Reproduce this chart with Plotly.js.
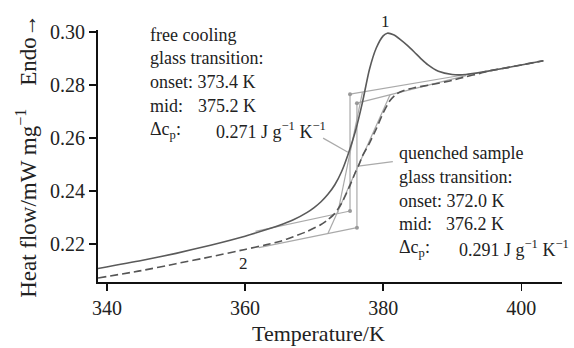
<!DOCTYPE html>
<html>
<head>
<meta charset="utf-8">
<script src="https://cdn.plot.ly/plotly-3.0.1.min.js"></script>
<style>html,body{margin:0;padding:0;background:#fff;}</style>
</head>
<body>
<div id="chart" style="width:574px;height:348px;"></div>
<script>
// ---- Data ----
// Curve 1: free cooling (solid)
const tempFree = [338.7, 345, 350, 355, 360, 363, 365, 367, 369, 370, 371, 372, 373, 374, 375, 376, 377, 378, 379, 380, 380.6, 381.5, 382.5, 383.5, 384.5, 385.5, 386.5, 388, 390, 392, 395, 398, 400, 403.2];
const hfFree   = [0.2108, 0.2138, 0.2165, 0.2196, 0.2230, 0.2254, 0.2271, 0.2292, 0.2320, 0.2338, 0.2360, 0.2388, 0.2424, 0.2475, 0.2545, 0.2628, 0.2735, 0.2858, 0.2940, 0.2986, 0.2996, 0.2990, 0.2972, 0.2950, 0.2925, 0.2899, 0.2876, 0.2852, 0.2840, 0.2840, 0.2852, 0.2866, 0.2876, 0.2892];
// Curve 2: quenched sample (dashed)
const tempQuench = [338.7, 345, 350, 355, 360, 363, 365, 367, 369, 371, 372, 373, 374, 375, 376, 376.5, 377, 378, 379, 380, 381, 382, 383, 384.5, 387, 390, 392, 394, 395, 398, 400, 403.2];
const hfQuench   = [0.2072, 0.2100, 0.2126, 0.2152, 0.2180, 0.2197, 0.2210, 0.2228, 0.2248, 0.2274, 0.2292, 0.2316, 0.2355, 0.2410, 0.2472, 0.2500, 0.2533, 0.2580, 0.2635, 0.2695, 0.2742, 0.2768, 0.2780, 0.2790, 0.2802, 0.2818, 0.2832, 0.2844, 0.2852, 0.2866, 0.2876, 0.2892];

// Evaluation construction lines, free cooling
const freeLowerT = [361.5, 375.2], freeLowerHF = [0.2248, 0.2325];
const freeUpperT = [375.2, 392.0], freeUpperHF = [0.2766, 0.2840];
const freeStepT  = [375.2, 375.2], freeStepHF  = [0.2325, 0.2766];
const freeTanT   = [373.4, 377.0], freeTanHF   = [0.2315, 0.2774];
const freeLeadT  = [371.3, 374.9], freeLeadHF  = [0.2600, 0.2547];
// Evaluation construction lines, quenched sample
const quenchLowerT = [362.0, 376.2], quenchLowerHF = [0.2187, 0.2262];
const quenchUpperT = [376.2, 392.0], quenchUpperHF = [0.2732, 0.2836];
const quenchStepT  = [376.2, 376.2], quenchStepHF  = [0.2262, 0.2732];
const quenchTanT   = [372.0, 381.0], quenchTanHF   = [0.2240, 0.2764];
const quenchLeadT  = [381.4, 376.4], quenchLeadHF  = [0.2511, 0.2494];

const xTicks = [340, 360, 380, 400];
const yTicks = [0.22, 0.24, 0.26, 0.28, 0.30];
const xTitle = "Temperature/K";
const yTitle = "Heat flow/mW mg<sup>−1</sup>";
const yTitleEnd = "Endo→";

const freeText = ["free cooling", "glass transition:", "onset: 373.4 K", "mid:", "375.2 K", "Δc<sub>p</sub>:", "0.271 J g<sup>−1</sup> K<sup>−1</sup>"];
const quenchText = ["quenched sample", "glass transition:", "onset: 372.0 K", "mid:", "376.2 K", "Δc<sub>p</sub>:", "0.291 J g<sup>−1</sup> K<sup>−1</sup>"];
const curveLabels = ["1", "2"];
const curveLabelT = [380.3, 359.7];

// ---- Styles ----
const FONT = "Liberation Serif";
const GRAY = "#aaaaaa";
function guide(x, y, markers) {
  return {x: x, y: y, type: "scatter", mode: markers ? "lines+markers" : "lines",
    line: {color: GRAY, width: 1.2}, marker: {color: "#999", size: 4}, hoverinfo: "skip"};
}

const traces = [
  guide(freeLowerT, freeLowerHF), guide(freeUpperT, freeUpperHF), guide(freeStepT, freeStepHF, true),
  guide(freeTanT, freeTanHF), guide(freeLeadT, freeLeadHF),
  guide(quenchLowerT, quenchLowerHF), guide(quenchUpperT, quenchUpperHF), guide(quenchStepT, quenchStepHF, true),
  guide(quenchTanT, quenchTanHF), guide(quenchLeadT, quenchLeadHF),
  {x: tempQuench, y: hfQuench, type: "scatter", mode: "lines", name: "2",
   line: {color: "#555555", width: 1.6, dash: "8px,4px", shape: "spline", smoothing: 0.6}},
  {x: tempFree, y: hfFree, type: "scatter", mode: "lines", name: "1",
   line: {color: "#5a5a5a", width: 1.6, shape: "spline", smoothing: 0.6}}
];

// pixel helpers for text placement (plot area: x 98..562, y 30..282)
function px(x) { return (x - 98) / 464; }
function py(y) { return (282 - y) / 252; }
function txt(t, x, y) {
  return {text: t, xref: "paper", yref: "paper", x: px(x), y: py(y), xanchor: "left", yanchor: "middle",
    showarrow: false, font: {family: FONT, size: 18, color: "#222"}};
}
const ann = [
  txt(freeText[0], 148, 35), txt(freeText[1], 148, 58), txt(freeText[2], 148, 82),
  txt(freeText[3], 148, 106), txt(freeText[4], 196, 106), txt(freeText[5], 148, 130), txt(freeText[6], 214, 130),
  txt(quenchText[0], 397, 153), txt(quenchText[1], 397, 177), txt(quenchText[2], 397, 201),
  txt(quenchText[3], 397, 224), txt(quenchText[4], 444, 224), txt(quenchText[5], 397, 248), txt(quenchText[6], 457, 248)
];
const labelPy = [22, 263];
for (let i = 0; i < curveLabels.length; i++) {
  ann.push({text: curveLabels[i], x: curveLabelT[i], y: py(labelPy[i]), xref: "x", yref: "paper",
    yanchor: "middle", showarrow: false, font: {family: FONT, size: 17, color: "#222"}});
}
// x-axis title, placed as in the reference (slightly left of centre)
ann.push({text: xTitle, xref: "paper", yref: "paper", x: px(318), y: py(333), xanchor: "center", yanchor: "middle",
  showarrow: false, borderpad: 0, font: {family: FONT, size: 22, color: "#222"}});

const NB = "\u00A0";
const layout = {
  width: 574, height: 348,
  margin: {l: 98, r: 12, t: 30, b: 66},
  paper_bgcolor: "#fff", plot_bgcolor: "#fff",
  showlegend: false,
  font: {family: FONT, color: "#222"},
  xaxis: {
    range: [338.7, 405.9], tickvals: xTicks, ticktext: xTicks.map(String),
    ticks: "outside", ticklen: 7, tickwidth: 1.5, tickcolor: "#111",
    showline: true, linecolor: "#111", linewidth: 2, showgrid: false, zeroline: false,
    tickfont: {family: FONT, size: 20, color: "#222"}
  },
  yaxis: {
    range: [0.2057, 0.3008], tickvals: yTicks, ticktext: yTicks.map(v => v.toFixed(2)),
    ticks: "outside", ticklen: 7, tickwidth: 1.5, tickcolor: "#111",
    showline: true, linecolor: "#111", linewidth: 2, showgrid: false, zeroline: false,
    tickfont: {family: FONT, size: 20, color: "#222"},
    title: {text: yTitle + NB.repeat(4) + yTitleEnd, font: {family: FONT, size: 23, color: "#222"}, standoff: 7}
  },
  annotations: ann
};

Plotly.newPlot("chart", traces, layout, {staticPlot: true, displayModeBar: false});
</script>
</body>
</html>
